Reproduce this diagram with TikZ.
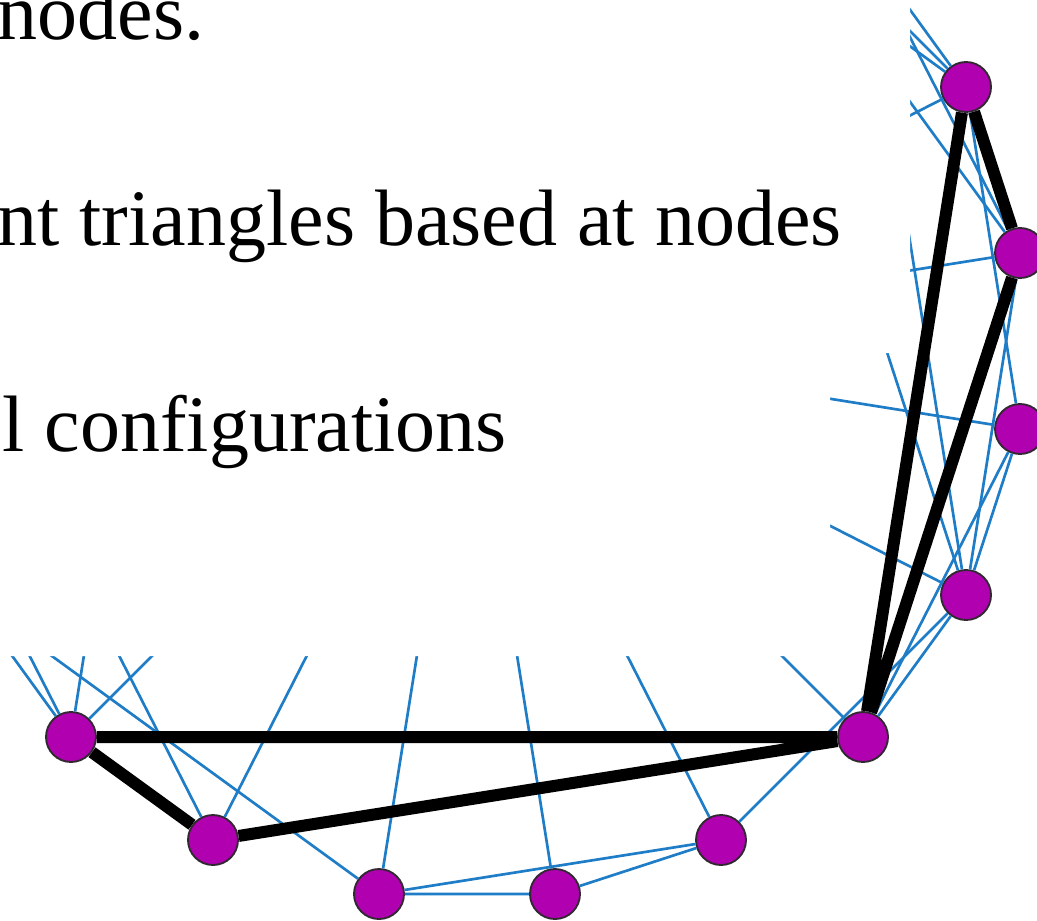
\documentclass[tikz,border=0pt]{standalone}
\usepackage{fontspec}
\setmainfont{Liberation Serif}
\tikzset{every picture/.style={line width=0.75pt}}
\begin{document}
\begin{tikzpicture}[x=0.75pt,y=0.75pt,yscale=-1,xscale=1,
  vertex/.style={circle,draw={rgb, 255:red, 50; green, 40; blue, 50},line width=1.4pt,fill={rgb, 255:red, 176; green, 0; blue, 176},minimum size=37.5pt,inner sep=0pt},
  link/.style={draw={rgb, 255:red, 30; green, 125; blue, 198},line width=2pt},
  tri/.style={draw=black,line width=9pt},
  bullettext/.style={anchor=base west,inner sep=0pt,font=\fontsize{60}{72}\selectfont}]
\useasboundingbox (0,0) rectangle (1037,920);
\clip (0,0) rectangle (1037,920);

%Shape: Circle (ring of nodes)
\node[vertex] (v0) at (1020,253) {};
\node[vertex] (v1) at (966,87) {};
\node[vertex] (v12) at (71,737) {};
\node[vertex] (v13) at (213,840) {};
\node[vertex] (v14) at (379,894) {};
\node[vertex] (v15) at (555,894) {};
\node[vertex] (v16) at (721,840) {};
\node[vertex] (v17) at (863,737) {};
\node[vertex] (v18) at (966,595) {};
\node[vertex] (v19) at (1020,429) {};
%hidden part of the ring
\coordinate (v2) at (863,-55);
\coordinate (v3) at (721,-158);
\coordinate (v4) at (555,-212);
\coordinate (v5) at (379,-212);
\coordinate (v6) at (213,-158);
\coordinate (v7) at (71,-55);
\coordinate (v8) at (-32,87);
\coordinate (v9) at (-86,253);
\coordinate (v10) at (-86,429);
\coordinate (v11) at (-32,595);

%Straight Lines
\draw[link] (v12) -- (v11) (v12) -- (v10) (v12) -- (v6) (v12) -- (v2);
\draw[link] (v13) -- (v9) (v13) -- (v3);
\draw[link] (v14) -- (v11) (v14) -- (v4) (v14) -- (v15) (v14) -- (v16);
\draw[link] (v15) -- (v5) (v15) -- (v16);
\draw[link] (v16) -- (v6) (v16) -- (v18);
\draw[link] (v17) -- (v7) (v17) -- (v18) (v17) -- (v19);
\draw[link] (v18) -- (v19) (v18) -- (v0) (v18) -- (v2) (v18) -- (v3) (v18) -- (v8);
\draw[link] (v19) -- (v1) (v19) -- (v9);
\draw[link] (v0) -- (v2) (v0) -- (v3) (v0) -- (v10);
\draw[link] (v1) -- (v2) (v1) -- (v3) (v1) -- (v4) (v1) -- (v11);

%Shape: Polygon (text area)
\fill[white] (-10,-10) -- (910,-10) -- (910,353) -- (830,353) -- (830,656) -- (-10,656) -- cycle;

%Straight Lines (triangles at v17)
\draw[tri] (v17) -- (v1) (v1) -- (v0) (v0) -- (v17);
\draw[tri] (v17) -- (v12) (v12) -- (v13) (v13) -- (v17);

% Text
\node[bullettext] (line1) at (-3,40) {nodes.};
\node[bullettext] (line2) at (-3,245) {nt triangles based at nodes};
\node[bullettext] (line3) at (2,451) {l configurations};

\end{tikzpicture}
\end{document}
